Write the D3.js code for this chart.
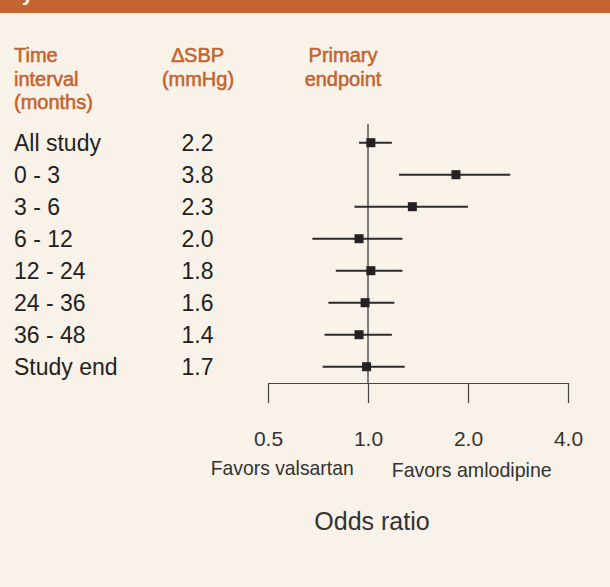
<!DOCTYPE html>
<html>
<head>
<meta charset="utf-8">
<script src="https://cdn.jsdelivr.net/npm/d3@7"></script>
<style>
  html, body { margin: 0; padding: 0; background: #f9f2e8; }
  svg { display: block; }
</style>
</head>
<body>
<svg id="chart" width="610" height="587"></svg>
<script>
// Forest plot: odds ratio of the primary endpoint by time interval
const intervals = ["All study", "0 - 3", "3 - 6", "6 - 12", "12 - 24", "24 - 36", "36 - 48", "Study end"];
const deltaSBP  = ["2.2", "3.8", "2.3", "2.0", "1.8", "1.6", "1.4", "1.7"];
const oddsRatio = [1.02, 1.84, 1.36, 0.94, 1.02, 0.98, 0.94, 0.99];
const ciLower   = [0.94, 1.24, 0.91, 0.68, 0.80, 0.76, 0.74, 0.73];
const ciUpper   = [1.18, 2.68, 2.00, 1.27, 1.27, 1.20, 1.18, 1.29];
const tickValues = [0.5, 1, 2, 4];
const tickLabels = ["0.5", "1.0", "2.0", "4.0"];

const W = 610, H = 587;
const orange = "#c4642e";
const ink = "#222";
const font = "'Liberation Sans', Arial, Helvetica, sans-serif";

const svg = d3.select("#chart");

// background + top band
svg.append("rect").attr("width", W).attr("height", H).attr("fill", "#f9f2e8");
svg.append("rect").attr("width", W).attr("height", 13).attr("fill", orange);
svg.append("text").attr("x", 22).attr("y", 1)
  .attr("font-family", font).attr("font-size", 20).attr("font-weight", "bold")
  .attr("fill", "#fff").text("y");

// column headers (medium weight: regular glyphs with a thin outline)
const headers = [
  { x: 14,  anchor: "start",  lines: ["Time", "interval", "(months)"] },
  { x: 198, anchor: "middle", lines: ["\u2206SBP", "(mmHg)"] },
  { x: 343, anchor: "middle", lines: ["Primary", "endpoint"] }
];
headers.forEach(h => {
  h.lines.forEach((t, i) => {
    svg.append("text")
      .attr("x", h.x).attr("y", 62 + i * 23.5)
      .attr("text-anchor", h.anchor)
      .attr("font-family", font).attr("font-size", 20)
      .attr("fill", orange).attr("stroke", orange).attr("stroke-width", 0.55)
      .text(t);
  });
});

// scales
const x = d3.scaleLog().domain([0.5, 4]).range([268, 568]);
const y = d3.scalePoint().domain(intervals).range([142.7, 366.7]);

// row labels and ΔSBP values
intervals.forEach((name, i) => {
  svg.append("text").attr("x", 14).attr("y", y(name) + 8)
    .attr("font-family", font).attr("font-size", 23).attr("fill", ink).text(name);
  svg.append("text").attr("x", 197.5).attr("y", y(name) + 8)
    .attr("text-anchor", "middle")
    .attr("font-family", font).attr("font-size", 23).attr("fill", ink).text(deltaSBP[i]);
});

// reference line at OR = 1
svg.append("line")
  .attr("x1", x(1)).attr("x2", x(1)).attr("y1", 124).attr("y2", 383)
  .attr("stroke", "#555").attr("stroke-width", 1.5);

// axis (ticks pointing down)
const axisY = 383;
const axis = d3.axisBottom(x).tickValues(tickValues)
  .tickFormat((d, i) => tickLabels[i]).tickSize(20).tickSizeOuter(0).tickPadding(22);
const gAxis = svg.append("g").attr("transform", `translate(0,${axisY})`).call(axis);
gAxis.select(".domain").attr("stroke", "#444").attr("stroke-width", 1.2);
gAxis.selectAll(".tick line").attr("stroke", "#444").attr("stroke-width", 1.2);
gAxis.selectAll(".tick text")
  .attr("font-family", font).attr("font-size", 21).attr("fill", "#333")
  .attr("dy", null).attr("y", 63);

// confidence intervals and point estimates
const rows = intervals.map((name, i) => ({ name, or: oddsRatio[i], lo: ciLower[i], hi: ciUpper[i] }));
svg.append("g").selectAll("line").data(rows).join("line")
  .attr("x1", d => x(d.lo)).attr("x2", d => x(d.hi))
  .attr("y1", d => y(d.name)).attr("y2", d => y(d.name))
  .attr("stroke", "#2b2b2b").attr("stroke-width", 2);
const s = 9;
svg.append("g").selectAll("rect").data(rows).join("rect")
  .attr("x", d => x(d.or) - s / 2).attr("y", d => y(d.name) - s / 2)
  .attr("width", s).attr("height", s).attr("fill", ink);

// direction labels and axis title
svg.append("text").attr("x", 210.7).attr("y", 475)
  .attr("font-family", font).attr("font-size", 21).attr("fill", "#333")
  .attr("textLength", 143).attr("lengthAdjust", "spacingAndGlyphs")
  .text("Favors valsartan");
svg.append("text").attr("x", 391.7).attr("y", 477)
  .attr("font-family", font).attr("font-size", 21).attr("fill", "#333")
  .attr("textLength", 160).attr("lengthAdjust", "spacingAndGlyphs")
  .text("Favors amlodipine");
svg.append("text").attr("x", 372).attr("y", 530).attr("text-anchor", "middle")
  .attr("font-family", font).attr("font-size", 25).attr("fill", "#333")
  .text("Odds ratio");
</script>
</body>
</html>
